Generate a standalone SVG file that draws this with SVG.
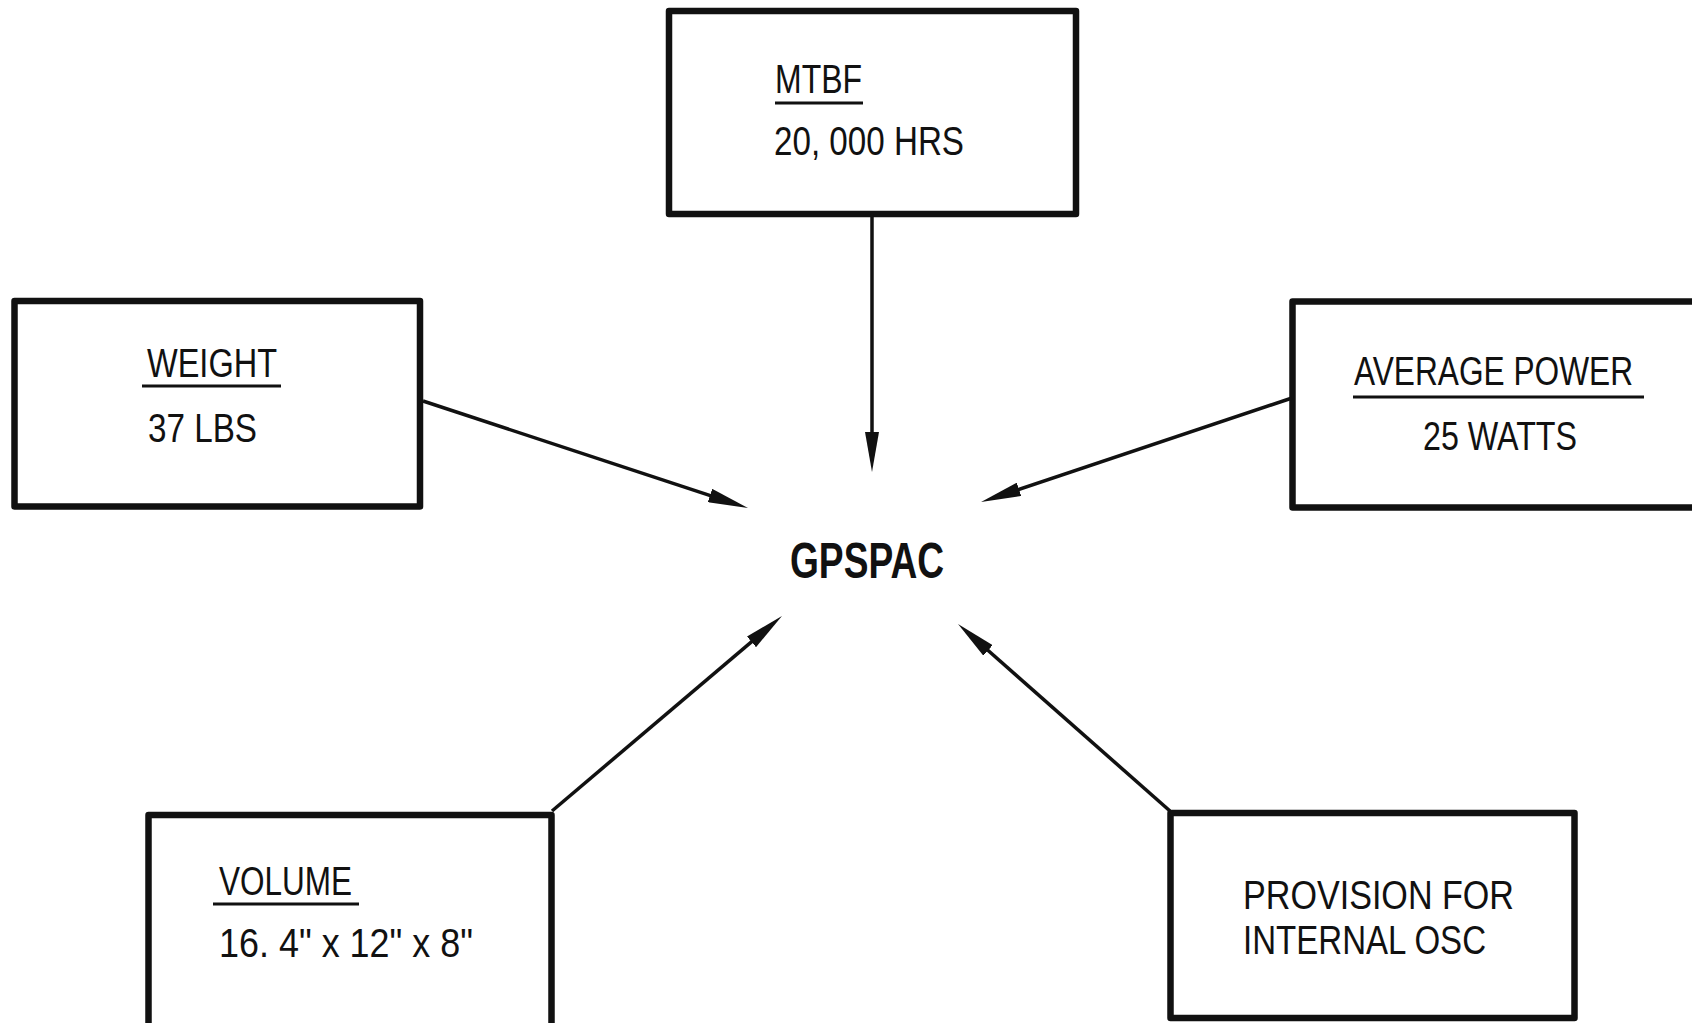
<svg xmlns="http://www.w3.org/2000/svg" width="1692" height="1023" viewBox="0 0 1692 1023">
<style>
.box{fill:none;stroke:#111;stroke-width:6.5;stroke-linejoin:round}
.t{font-family:"Liberation Sans",Arial,sans-serif;font-size:41px;fill:#111}
.b{font-family:"Liberation Sans",Arial,sans-serif;font-size:50px;font-weight:bold;fill:#111}
.ul{stroke:#111;stroke-width:3}
.c{stroke:#111;stroke-width:3.5;fill:none}
</style>
<defs>
<marker id="ah" viewBox="0 0 40 14" refX="10" refY="7" markerWidth="40" markerHeight="14" markerUnits="userSpaceOnUse" orient="auto">
<path d="M0,0 L40,7 L0,14 Z" fill="#111"/>
</marker>
</defs>
<rect width="1692" height="1023" fill="#fff"/>
<g id="mtbf">
<rect class="box" x="669" y="11" width="407" height="203"/>
<text class="t" x="775" y="93" textLength="87" lengthAdjust="spacingAndGlyphs">MTBF</text>
<line class="ul" x1="775" y1="103" x2="863" y2="103"/>
<text class="t" x="774" y="155" textLength="190" lengthAdjust="spacingAndGlyphs">20, 000 HRS</text>
</g>
<g id="weight">
<rect class="box" x="14.5" y="301" width="405.5" height="205.5"/>
<text class="t" x="147" y="377" textLength="130" lengthAdjust="spacingAndGlyphs">WEIGHT</text>
<line class="ul" x1="142" y1="386" x2="281" y2="386"/>
<text class="t" x="148" y="442" textLength="109" lengthAdjust="spacingAndGlyphs">37 LBS</text>
</g>
<g id="power">
<rect class="box" x="1292.5" y="301.5" width="430" height="206"/>
<text class="t" x="1354" y="385" textLength="279" lengthAdjust="spacingAndGlyphs">AVERAGE POWER</text>
<line class="ul" x1="1353" y1="397" x2="1644" y2="397"/>
<text class="t" x="1423" y="450" textLength="154" lengthAdjust="spacingAndGlyphs">25 WATTS</text>
</g>
<g id="gpspac">
<text class="b" x="790" y="578" textLength="154" lengthAdjust="spacingAndGlyphs">GPSPAC</text>
</g>
<g id="volume">
<rect class="box" x="148.5" y="815" width="403" height="240"/>
<text class="t" x="219" y="895" textLength="133" lengthAdjust="spacingAndGlyphs">VOLUME</text>
<line class="ul" x1="213" y1="904" x2="359" y2="904"/>
<text class="t" x="219" y="957" textLength="254" lengthAdjust="spacingAndGlyphs">16. 4" x 12" x 8"</text>
</g>
<g id="provision">
<rect class="box" x="1170.5" y="813" width="404" height="205"/>
<text class="t" x="1243" y="909" textLength="271" lengthAdjust="spacingAndGlyphs">PROVISION FOR</text>
<text class="t" x="1243" y="954" textLength="243" lengthAdjust="spacingAndGlyphs">INTERNAL OSC</text>
</g>
<g id="connectors">
<line class="c" x1="872" y1="214" x2="872" y2="442" marker-end="url(#ah)"/>
<line class="c" x1="423" y1="401" x2="719.5" y2="498.6" marker-end="url(#ah)"/>
<line class="c" x1="1292" y1="398" x2="1009.5" y2="492.5" marker-end="url(#ah)"/>
<line class="c" x1="552" y1="811" x2="759.1" y2="635.4" marker-end="url(#ah)"/>
<line class="c" x1="1170" y1="811" x2="980.5" y2="643.8" marker-end="url(#ah)"/>
</g>
</svg>
